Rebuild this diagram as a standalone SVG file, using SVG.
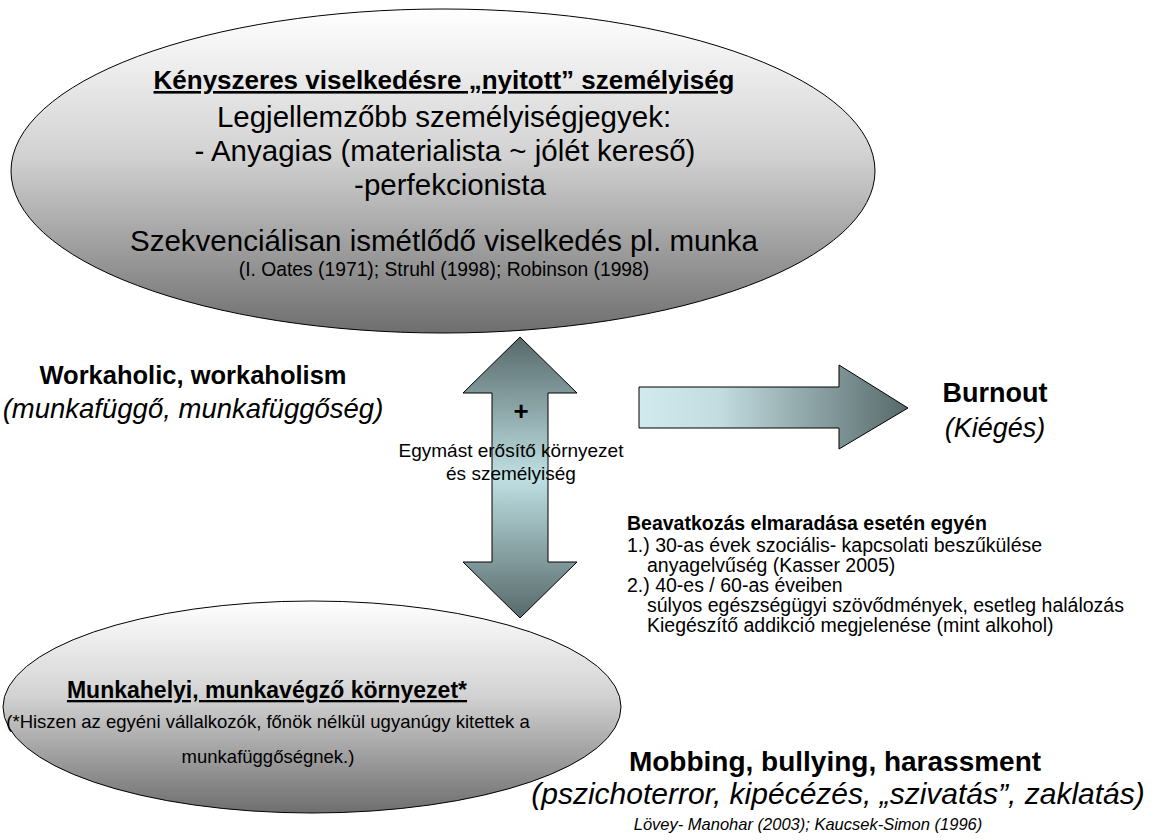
<svg xmlns="http://www.w3.org/2000/svg" width="1157" height="840" viewBox="0 0 1157 840">
<defs>
<linearGradient id="ellGrad" x1="0" y1="0" x2="0" y2="1">
<stop offset="0" stop-color="#ffffff"/>
<stop offset="0.45" stop-color="#d2d2d2"/>
<stop offset="1" stop-color="#6e6e6e"/>
</linearGradient>
<linearGradient id="dblGrad" x1="0" y1="0" x2="0" y2="1">
<stop offset="0" stop-color="#56696a"/>
<stop offset="0.5" stop-color="#bfe0e3"/>
<stop offset="1" stop-color="#56696a"/>
</linearGradient>
<linearGradient id="rGrad" x1="0" y1="0" x2="1" y2="0">
<stop offset="0" stop-color="#d1eaed"/>
<stop offset="0.3" stop-color="#c2dcdf"/>
<stop offset="1" stop-color="#56696a"/>
</linearGradient>
</defs>
<style>
text{font-family:"Liberation Sans",Arial,sans-serif;fill:#000}
.c{text-anchor:middle}
.b{font-weight:bold}
.i{font-style:italic}
.u{text-decoration:underline}
.ell{fill:url(#ellGrad);stroke:#000;stroke-width:1}
.arr{stroke:#000;stroke-width:1}
.s{font-size:19.5px}
</style>
<rect width="1157" height="840" fill="#fff"/>

<g id="personality">
<ellipse class="ell" cx="443" cy="171" rx="432" ry="162"/>
<text class="c b u" x="444" y="89" font-size="26">Kényszeres viselkedésre „nyitott” személyiség</text>
<text class="c" x="444" y="127" font-size="29.5">Legjellemzőbb személyiségjegyek:</text>
<text class="c" x="445" y="161" font-size="29.5">- Anyagias (materialista ~ jólét kereső)</text>
<text class="c" x="450" y="195" font-size="29.5">-perfekcionista</text>
<text class="c" x="444" y="251" font-size="29.5">Szekvenciálisan ismétlődő viselkedés pl. munka</text>
<text class="c" x="444" y="276" font-size="19.3">(I. Oates (1971); Struhl (1998); Robinson (1998)</text>
</g>

<g id="environment">
<ellipse class="ell" cx="312" cy="707" rx="309" ry="106"/>
<text class="c b u" x="267" y="698" font-size="23">Munkahelyi, munkavégző környezet*</text>
<text class="c" x="268" y="728" font-size="18.5">(*Hiszen az egyéni vállalkozók, főnök nélkül ugyanúgy  kitettek a</text>
<text class="c" x="268" y="763" font-size="18.5">munkafüggőségnek.)</text>
</g>

<g id="connectors">
<path class="arr" fill="url(#dblGrad)" d="M520,337 L577,393 L548,393 L548,562 L577,562 L520,618 L463,562 L492,562 L492,393 L463,393 Z"/>
<path class="arr" fill="url(#rGrad)" d="M639,387 L839,387 L839,365 L908,408 L839,449 L839,428 L639,428 Z"/>
</g>

<g id="workaholic">
<text class="c b" x="193" y="384" font-size="25.5">Workaholic, workaholism</text>
<text class="c i" x="193" y="418" font-size="27.5">(munkafüggő, munkafüggőség)</text>
</g>

<g id="reinforce">
<text class="c b" x="521" y="420" font-size="26">+</text>
<text class="c" x="511" y="457" font-size="19">Egymást erősítő környezet</text>
<text class="c" x="511" y="480" font-size="19">és személyiség</text>
</g>

<g id="burnout">
<text class="c b" x="995" y="402" font-size="27">Burnout</text>
<text class="c i" x="995" y="437" font-size="27">(Kiégés)</text>
</g>

<g id="consequences">
<text class="b s" x="627" y="530">Beavatkozás elmaradása esetén egyén</text>
<text class="s" x="627" y="552">1.) 30-as évek szociális- kapcsolati beszűkülése</text>
<text class="s" x="647" y="572">anyagelvűség (Kasser 2005)</text>
<text class="s" x="627" y="592">2.) 40-es / 60-as éveiben</text>
<text class="s" x="647" y="612">súlyos egészségügyi szövődmények, esetleg halálozás</text>
<text class="s" x="647" y="632">Kiegészítő addikció megjelenése (mint alkohol)</text>
</g>

<g id="mobbing">
<text class="c b" x="835" y="771" font-size="28">Mobbing, bullying, harassment</text>
<text class="c i" x="838" y="804" font-size="30">(pszichoterror, kipécézés, „szivatás”, zaklatás)</text>
<text class="c i" x="808" y="830" font-size="16.5">Lövey- Manohar (2003); Kaucsek-Simon (1996)</text>
</g>
</svg>
